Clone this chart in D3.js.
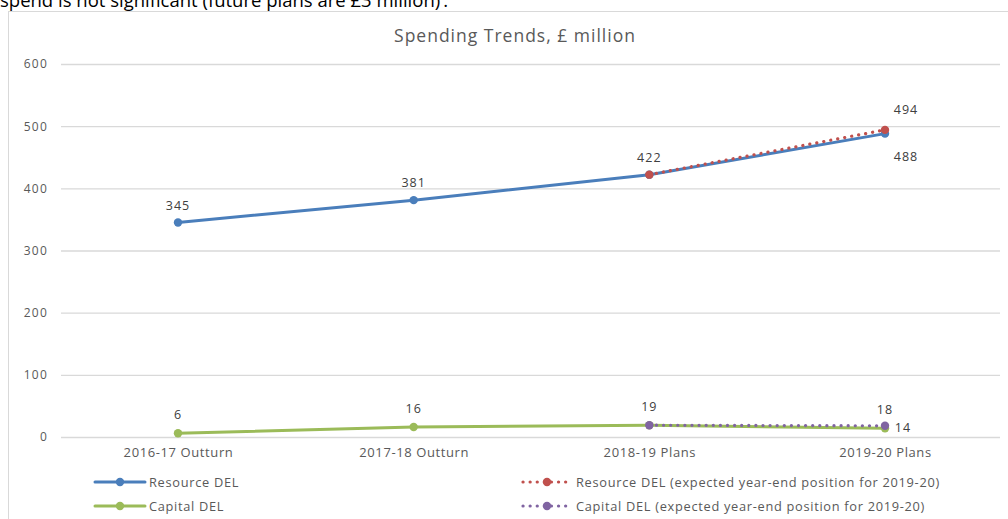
<!DOCTYPE html>
<html>
<head>
<meta charset="utf-8">
<script src="https://cdn.jsdelivr.net/npm/d3@7"></script>
<style>
  body { margin: 0; background: #fff; overflow: hidden; }
  svg { display: block; font-family: 'Open Sans', sans-serif; }
</style>
</head>
<body>
<div id="app"></div>
<script>
const categories = ['2016-17 Outturn', '2017-18 Outturn', '2018-19 Plans', '2019-20 Plans']
const resourceDel = [345, 381, 422, 488]
const capitalDel = [6, 16, 19, 14]
const resourceExpected = [null, null, 422, 494]
const capitalExpected = [null, null, 19, 18]
const yTicks = [0, 100, 200, 300, 400, 500, 600]

const config = {
  width: 1008,
  height: 519,
  grey: '#595959',
}

const series = [
  {name: 'Resource DEL', values: resourceDel, color: '#4a7ebb', dotted: false},
  {name: 'Capital DEL', values: capitalDel, color: '#9bbb59', dotted: false},
  {name: 'Resource DEL (expected year-end position for 2019-20)', values: resourceExpected, color: '#c0504d', dotted: true},
  {name: 'Capital DEL (expected year-end position for 2019-20)', values: capitalExpected, color: '#8064a2', dotted: true},
]

const draw = () => {
  const svg = d3
    .select('#app')
    .append('svg')
    .attr('width', config.width)
    .attr('height', config.height)

  // text of the document above the chart, cut off by the crop
  svg.append('text')
    .attr('x', 0)
    .attr('y', 7)
    .attr('font-family', "'Open Sans', sans-serif")
    .attr('font-size', 18.5)
    .attr('fill', '#000')
    .text('spend is not significant (future plans are £3 million)\u2019.')

  // chart frame
  svg.append('rect')
    .attr('x', 8.5)
    .attr('y', 11.5)
    .attr('width', 1000)
    .attr('height', 530)
    .attr('fill', '#fff')
    .attr('stroke', '#d9d9d9')

  svg.append('text')
    .attr('x', 515)
    .attr('y', 42)
    .attr('text-anchor', 'middle')
    .attr('font-size', 17.5)
    .attr('letter-spacing', 1)
    .attr('fill', config.grey)
    .text('Spending Trends, £ million')

  const x = d3.scalePoint().domain(categories).range([178, 885])
  const y = d3.scaleLinear().domain([0, 600]).range([437, 64])

  // gridlines
  svg.append('g')
    .selectAll('line')
    .data(yTicks)
    .join('line')
    .attr('x1', 61)
    .attr('x2', 1000)
    .attr('y1', (d) => y(d) + 0.5)
    .attr('y2', (d) => y(d) + 0.5)
    .attr('stroke', '#d9d9d9')
    .attr('stroke-width', 1.3)

  const yAxis = svg.append('g')
    .attr('transform', 'translate(48,0)')
    .call(d3.axisLeft(y).tickValues(yTicks).tickSize(0).tickPadding(0))
  yAxis.select('.domain').remove()
  yAxis.selectAll('text')
    .attr('font-size', 12)
    .attr('letter-spacing', 1.2)
    .attr('font-family', "'Open Sans', sans-serif")
    .attr('fill', config.grey)

  const xAxis = svg.append('g')
    .attr('transform', 'translate(0,448)')
    .call(d3.axisBottom(x).tickSize(0).tickPadding(0))
  xAxis.select('.domain').remove()
  xAxis.selectAll('text')
    .attr('font-size', 13)
    .attr('letter-spacing', 0.6)
    .attr('font-family', "'Open Sans', sans-serif")
    .attr('fill', config.grey)

  const line = d3
    .line()
    .defined((d) => d != null)
    .x((d, i) => x(categories[i]))
    .y((d) => y(d))

  const styleLine = (sel, s) => {
    sel.attr('fill', 'none')
      .attr('stroke', s.color)
      .attr('stroke-width', s.dotted ? 3.2 : 3)
      .attr('stroke-linecap', 'round')
      .attr('stroke-dasharray', s.dotted ? '0.1 7' : null)
  }

  // solid lines first, dotted on top
  series.forEach((s) => {
    svg.append('path').attr('d', line(s.values)).call(styleLine, s)
    svg.append('g')
      .selectAll('circle')
      .data(s.values.map((v, i) => ({v, i})).filter((d) => d.v != null))
      .join('circle')
      .attr('cx', (d) => x(categories[d.i]))
      .attr('cy', (d) => y(d.v))
      .attr('r', 4.2)
      .attr('fill', s.color)
  })

  // data labels
  const labelOffsets = {
    'Resource DEL': [[0, -13], [0, -13], null, [21, 27]],
    'Capital DEL': [[0, -14], [0, -14], null, [18, 4]],
    'Resource DEL (expected year-end position for 2019-20)': [null, null, [0, -13], [21, -16]],
    'Capital DEL (expected year-end position for 2019-20)': [null, null, [0, -14], [0, -12]],
  }
  series.forEach((s) => {
    s.values.forEach((v, i) => {
      const off = labelOffsets[s.name][i]
      if (v == null || !off) return
      svg.append('text')
        .attr('x', x(categories[i]) + off[0])
        .attr('y', y(v) + off[1])
        .attr('text-anchor', 'middle')
        .attr('font-size', 12.5)
        .attr('letter-spacing', 1)
        .attr('fill', '#404040')
        .text(v)
    })
  })

  // legend
  const legendPos = [[95, 482], [95, 506], [522, 482], [522, 506]]
  series.forEach((s, j) => {
    const [lx, ly] = legendPos[j]
    const g = svg.append('g').attr('transform', `translate(${lx},${ly})`)
    g.append('line')
      .attr('x1', s.dotted ? 1 : 0)
      .attr('x2', 50)
      .attr('y1', 0)
      .attr('y2', 0)
      .call(styleLine, s)
    g.append('circle').attr('cx', 25).attr('cy', 0).attr('r', 4.2).attr('fill', s.color)
    g.append('text')
      .attr('x', 54)
      .attr('y', 4.5)
      .attr('font-size', 12.8)
      .attr('letter-spacing', 0.7)
      .attr('font-family', "'Open Sans', sans-serif")
      .attr('fill', config.grey)
      .text(s.name)
  })
}
draw()
</script>
</body>
</html>
